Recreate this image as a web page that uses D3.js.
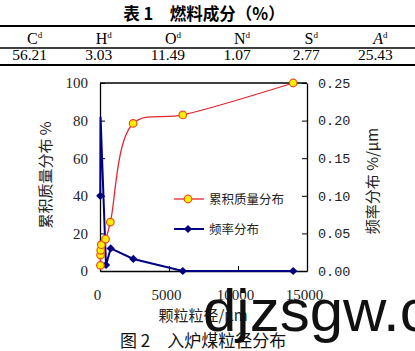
<!DOCTYPE html>
<html>
<head>
<meta charset="utf-8">
<script src="https://cdn.jsdelivr.net/npm/d3@7"></script>
<style>
  body { margin: 0; background: #fff; }
  svg { display: block; }
</style>
</head>
<body>
<div id="chart"></div>
<script>
// table 1 data
const compNames = ["C", "H", "O", "N", "S", "A"];
const compValues = ["56.21", "3.03", "11.49", "1.07", "2.77", "25.43"];

// cumulative mass distribution (%)
const cumSize = [30, 40, 50, 100, 400, 750, 2400, 6000, 14000];
const cumPct = [3, 8.5, 11, 14, 17, 26, 78.5, 83, 100];

// frequency distribution (%/um)
const freqSize = [20, 40, 435, 775, 2415, 6000, 14000];
const freqVal = [0.10, 0.205, 0.008, 0.030, 0.016, 0, 0];

const xTicks = [0, 5000, 10000, 15000];
const yLeftTicks = [0, 20, 40, 60, 80, 100];
const yRightTicks = [0, 0.05, 0.10, 0.15, 0.20, 0.25];

const W = 415, H = 351;
const plot = { left: 100, right: 307, top: 83, bottom: 271 };
const serif = "'Liberation Serif', 'Times New Roman', serif";
const cjk = "'Noto Sans CJK SC', sans-serif";

const svg = d3.select("#chart").append("svg")
  .attr("width", W)
  .attr("height", H);

svg.append("rect").attr("width", W).attr("height", H).attr("fill", "#fff");

// ---- table ----
svg.append("text")
  .attr("x", 204).attr("y", 20)
  .attr("text-anchor", "middle")
  .style("font-family", cjk)
  .style("font-size", "16.5px")
  .style("font-weight", "bold")
  .text("表 1　燃料成分（%）");

const colX = d3.scaleBand().domain(compNames).range([0, W]);

[[26, 2], [48, 1.3], [65, 2]].forEach(([y, w]) => {
  svg.append("line")
    .attr("x1", 0).attr("x2", W).attr("y1", y).attr("y2", y)
    .attr("stroke", "#000").attr("stroke-width", w);
});

const head = svg.selectAll(".head")
  .data(compNames)
  .enter()
  .append("text")
  .attr("class", "head")
  .attr("x", d => colX(d) + colX.bandwidth() / 2)
  .attr("y", 44)
  .attr("text-anchor", "middle")
  .style("font-family", serif)
  .style("font-size", "16px");
head.append("tspan")
  .style("font-style", d => d === "A" ? "italic" : "normal")
  .text(d => d);
head.append("tspan")
  .attr("dy", -6)
  .style("font-size", "9px")
  .text("d");

svg.selectAll(".val")
  .data(compValues)
  .enter()
  .append("text")
  .attr("x", (d, i) => colX(compNames[i]) + colX.bandwidth() / 2 - 5)
  .attr("y", 60)
  .attr("text-anchor", "middle")
  .style("font-family", serif)
  .style("font-size", "15.5px")
  .text(d => d);

// ---- chart ----
const x = d3.scaleLinear().domain([0, 15000]).range([plot.left, plot.right]);
const yL = d3.scaleLinear().domain([0, 100]).range([plot.bottom, plot.top]);
const yR = d3.scaleLinear().domain([0, 0.25]).range([plot.bottom, plot.top]);

// top border
svg.append("line")
  .attr("x1", plot.left).attr("x2", plot.right)
  .attr("y1", plot.top).attr("y2", plot.top)
  .attr("stroke", "#000").attr("stroke-width", 1.3);

const gL = svg.append("g")
  .attr("transform", `translate(${plot.left},0)`)
  .call(d3.axisLeft(yL).tickValues(yLeftTicks).tickSizeInner(-5).tickSizeOuter(0).tickPadding(12));
gL.selectAll("text").style("font-family", serif).style("font-size", "15px").attr("fill", "#222");

const gR = svg.append("g")
  .attr("transform", `translate(${plot.right},0)`)
  .call(d3.axisRight(yR).tickValues(yRightTicks).tickFormat(d3.format(".2f"))
    .tickSizeInner(-5).tickSizeOuter(0).tickPadding(11));
gR.selectAll("text").style("font-family", "'Liberation Mono', monospace").style("font-size", "13.5px").attr("fill", "#222");

const gB = svg.append("g")
  .attr("transform", `translate(0,${plot.bottom})`)
  .call(d3.axisBottom(x).tickValues(xTicks).tickFormat(d3.format("d"))
    .tickSizeInner(-5).tickSizeOuter(0).tickPadding(18));
gB.selectAll("text").attr("dx", -3).style("font-family", serif).style("font-size", "15px").attr("fill", "#222");

[gL, gR, gB].forEach(g => {
  g.select(".domain").attr("stroke", "#000").attr("stroke-width", 1.3);
  g.selectAll(".tick line").attr("stroke", "#000");
});

// axis titles
svg.append("text")
  .attr("transform", "translate(51,175) rotate(-90)")
  .attr("text-anchor", "middle")
  .style("font-family", cjk)
  .style("font-size", "15px")
  .attr("fill", "#222")
  .text("累积质量分布 %");

svg.append("text")
  .attr("transform", "translate(378,181) rotate(-90)")
  .attr("text-anchor", "middle")
  .style("font-family", cjk)
  .style("font-size", "15px")
  .attr("fill", "#222")
  .text("频率分布 %/μm");

svg.append("text")
  .attr("x", 203).attr("y", 321)
  .attr("text-anchor", "middle")
  .style("font-family", cjk)
  .style("font-size", "15px")
  .attr("fill", "#222")
  .text("颗粒粒径/μm");

// frequency line
const freqData = freqSize.map((s, i) => ({ s, v: freqVal[i] }));
const blue = "#000080";
svg.append("path")
  .datum(freqData)
  .attr("fill", "none")
  .attr("stroke", blue)
  .attr("stroke-width", 2)
  .attr("d", d3.line().x(d => x(d.s)).y(d => yR(d.v)));

// peak point has no visible marker in the original
const diamond = d3.symbol().type(d3.symbolSquare).size(34);
svg.selectAll(".dia")
  .data(freqData.filter((d, i) => i !== 1))
  .enter()
  .append("path")
  .attr("transform", d => `translate(${x(d.s)},${yR(d.v)}) rotate(45)`)
  .attr("d", diamond)
  .attr("fill", blue);

// cumulative line
const cumData = cumSize.map((s, i) => ({ s, v: cumPct[i] }));
const red = "#e3262e";
svg.append("path")
  .datum(cumData)
  .attr("fill", "none")
  .attr("stroke", red)
  .attr("stroke-width", 1.3)
  .attr("d", d3.line().x(d => x(d.s)).y(d => yL(d.v)).curve(d3.curveCatmullRom.alpha(0.5)));

svg.selectAll(".dot")
  .data(cumData)
  .enter()
  .append("circle")
  .attr("cx", d => x(d.s))
  .attr("cy", d => yL(d.v))
  .attr("r", 3.8)
  .attr("fill", "#ffee00")
  .attr("stroke", "#e8501a")
  .attr("stroke-width", 1.2);

// legend
const legend = [
  { label: "累积质量分布", y: 199, type: "cum" },
  { label: "频率分布", y: 229, type: "freq" }
];
legend.forEach(d => {
  svg.append("line")
    .attr("x1", 174).attr("x2", 204).attr("y1", d.y).attr("y2", d.y)
    .attr("stroke", d.type === "cum" ? red : blue)
    .attr("stroke-width", d.type === "cum" ? 1.3 : 2);
  if (d.type === "cum") {
    svg.append("circle").attr("cx", 188).attr("cy", d.y).attr("r", 3.8)
      .attr("fill", "#ffee00").attr("stroke", "#e8501a").attr("stroke-width", 1.2);
  } else {
    svg.append("path").attr("transform", `translate(188,${d.y}) rotate(45)`)
      .attr("d", diamond).attr("fill", blue);
  }
  svg.append("text")
    .attr("x", 209).attr("y", d.y + 4.5)
    .style("font-family", cjk)
    .style("font-size", "12.5px")
    .attr("fill", "#222")
    .text(d.label);
});

// caption
svg.append("text")
  .attr("x", 120).attr("y", 347)
  .style("font-family", cjk)
  .style("font-size", "17px")
  .attr("fill", "#111")
  .text("图 2　入炉煤粒径分布");

// watermark
svg.append("text")
  .attr("x", 203).attr("y", 331)
  .style("font-family", "'Liberation Sans', Arial, sans-serif")
  .style("font-size", "60px")
  .attr("fill", "#111")
  .text("djzsgw.com");
</script>
</body>
</html>
